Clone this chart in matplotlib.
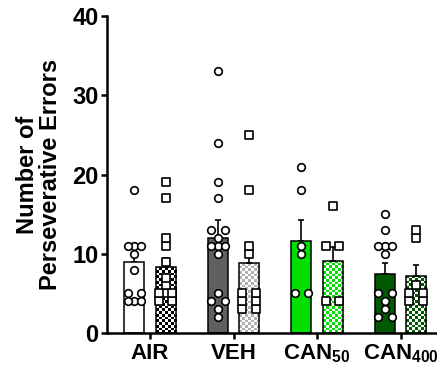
import numpy as np
import matplotlib
matplotlib.use('Agg')
import matplotlib.pyplot as plt
from matplotlib.colors import ListedColormap
from matplotlib.patches import Rectangle

plt.rcParams['font.family'] = ['Liberation Sans', 'DejaVu Sans']
plt.rcParams['font.weight'] = 'bold'
plt.rcParams['mathtext.fontset'] = 'custom'
plt.rcParams['mathtext.rm'] = 'Liberation Sans'
plt.rcParams['mathtext.bf'] = 'Liberation Sans:bold'

# data
groups = ['AIR', 'VEH', r'$\mathbf{CAN}_{\mathrm{50}}$', r'$\mathbf{CAN}_{\mathrm{400}}$']
colors = ['#ffffff', '#606060', '#00e000', '#005800']
checker_colors = ['#000000', '#b0b0b0', '#00e000', '#005800']

mean_a = [8.9, 12.0, 11.6, 7.5]
sem_a = [1.3, 2.3, 2.7, 1.3]
mean_b = [8.3, 8.8, 9.1, 7.2]
sem_b = [1.2, 2.2, 1.8, 1.4]

pts_air_a = [18, 11, 11, 11, 10, 8, 5, 5, 4, 4, 4]
pts_air_b = [19, 17, 12, 11, 9, 7, 6, 5, 5, 5, 4, 4]
pts_veh_a = [33, 24, 19, 17, 13, 13, 12, 11, 11, 11, 10, 5, 4, 4, 3, 2]
pts_veh_b = [25, 18, 11, 10, 5, 5, 4, 4, 3, 3]
pts_c50_a = [21, 18, 11, 10, 5, 5]
pts_c50_b = [16, 11, 11, 4, 4]
pts_c400_a = [15, 13, 11, 11, 11, 10, 5, 5, 4, 3, 2, 2]
pts_c400_b = [13, 12, 6, 5, 5, 4, 4]

pts_a = [pts_air_a, pts_veh_a, pts_c50_a, pts_c400_a]
pts_b = [pts_air_b, pts_veh_b, pts_c50_b, pts_c400_b]

fig = plt.figure(figsize=(4.37, 3.75), dpi=100)
ax = fig.add_axes([107/437, 42/375, 330/437, 317/375])
ax.set_xlim(-0.515, 3.437)
ax.set_ylim(0, 40)

x = np.arange(len(groups))
off = 0.186
w = 0.24
lw = 1.1


def spread(vals, center, step=0.08):
    # simple swarm: equal values spread side by side
    xs = []
    vals = np.array(vals, dtype=float)
    for v in np.unique(vals):
        n = int((vals == v).sum())
        if n % 2:
            offs = [0] + [s * k for k in range(1, n // 2 + 1) for s in (-1, 1)]
        else:
            offs = [s * k for k in range(1, n // 2 + 1) for s in (-1, 1)]
        for o in offs[:n]:
            xs.append((center + o * step, v))
    return np.array(xs)


def checker(bar, c1, c2, cell=2.7):
    x0, y0 = bar.get_x(), bar.get_y()
    bw, bh = bar.get_width(), bar.get_height()
    (px0, py0), (px1, py1) = ax.transData.transform([(x0, y0), (x0 + bw, y0 + bh)])
    nc = max(1, int(round((px1 - px0) / cell)))
    nr = max(1, int(round((py1 - py0) / cell)))
    grid = np.indices((nr, nc)).sum(axis=0) % 2
    im = ax.imshow(grid, cmap=ListedColormap([c1, c2]), extent=(x0, x0 + bw, y0, y0 + bh),
                   origin='lower', interpolation='nearest', aspect='auto', zorder=1.5)
    clip = Rectangle((x0, y0), bw, bh, transform=ax.transData)
    im.set_clip_path(clip)


bars_a = ax.bar(x - off, mean_a, w, color=colors, edgecolor='black', linewidth=lw, zorder=2)
bars_b = ax.bar(x + off, mean_b, w, color='none', edgecolor='black', linewidth=lw, zorder=2)
for b, c in zip(bars_b, checker_colors):
    checker(b, c, '#ffffff')
ax.set_xlim(-0.515, 3.437)
ax.set_ylim(0, 40)

ax.errorbar(x - off, mean_a, yerr=[np.zeros(4), sem_a], fmt='none', ecolor='black',
            elinewidth=1.2, capsize=2.2, capthick=1.2, zorder=1.8)
ax.errorbar(x + off, mean_b, yerr=[np.zeros(4), sem_b], fmt='none', ecolor='black',
            elinewidth=1.2, capsize=2.2, capthick=1.2, zorder=1.8)

for i in range(len(groups)):
    pa = spread(pts_a[i], x[i] - off)
    ax.scatter(pa[:, 0], pa[:, 1], s=30, marker='o', facecolor='white',
               edgecolor='black', linewidth=1.2, zorder=4, clip_on=False)
    pb = spread(pts_b[i], x[i] + off)
    ax.scatter(pb[:, 0], pb[:, 1], s=30, marker='s', facecolor='white',
               edgecolor='black', linewidth=1.2, zorder=4, clip_on=False)

for s in ['top', 'right']:
    ax.spines[s].set_visible(False)
for s in ['left', 'bottom']:
    ax.spines[s].set_linewidth(1.8)

ax.set_yticks([0, 10, 20, 30, 40])
ax.set_xticks(x)
ax.set_xticklabels(groups, fontsize=16, fontweight='bold')
ax.tick_params(axis='y', labelsize=17, width=1.8, length=4, pad=2)
ax.tick_params(axis='x', width=1.8, length=4, pad=3)
for t in ax.get_yticklabels():
    t.set_fontweight('bold')

ax.set_ylabel('Number of\nPerseverative Errors', fontsize=17, fontweight='bold', linespacing=1.0)
ax.yaxis.set_label_coords(-0.135, 0.5)

fig.savefig('out.png', dpi=100)
